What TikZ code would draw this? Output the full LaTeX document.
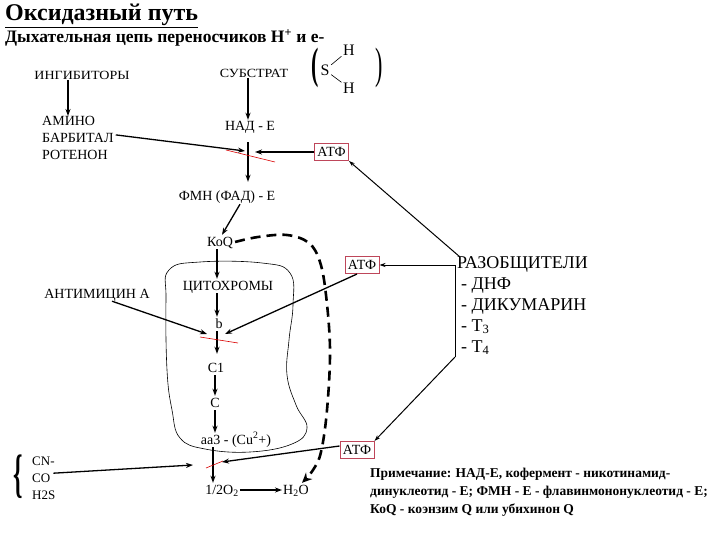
\documentclass[tikz,border=0pt]{standalone}
\usepackage{fontspec}
\setmainfont{Liberation Serif}
\newfontfamily\widefont[FakeStretch=1.12]{Liberation Serif}
\usetikzlibrary{arrows.meta}
\definecolor{atfred}{RGB}{190,70,90}
\begin{document}
\begin{tikzpicture}[x=1pt,y=-1pt,
  lbl/.style={inner sep=1pt, text height=10pt, text depth=2pt, font=\fontsize{14}{16}\selectfont},
  small/.style={inner sep=1pt, font=\widefont\fontsize{12.5}{14}\selectfont},
  poison/.style={anchor=base west, inner sep=0pt, font=\fontsize{13}{15}\selectfont},
  arr/.style={-{Stealth[length=7pt,width=5pt]}, line width=1.3pt},
  thinarr/.style={-{Stealth[length=6pt,width=4pt]}, line width=1pt},
  atf/.style={draw=atfred, fill=white, inner xsep=3pt, inner ysep=4pt, font=\fontsize{14}{16}\selectfont, line width=0.8pt},
  cross/.style={red!85!black, line width=0.6pt},
  thickdash/.style={line width=2.6pt, dash pattern=on 10pt off 6pt},
]
\useasboundingbox (0,0) rectangle (720,540);

% titles
\node[anchor=base west, inner sep=0pt, font=\fontsize{24}{26}\selectfont\bfseries] (title) at (5,21) {\underline{Оксидазный путь}};
\node[anchor=base west, inner sep=0pt, font=\fontsize{17.5}{19}\selectfont\bfseries] (sub) at (5,43) {Дыхательная цепь переносчиков H\textsuperscript{+} и е-};

% top labels
\node[small] (ing) at (82,75) {ИНГИБИТОРЫ};
\node[small] (subst) at (254,73) {СУБСТРАТ};

% (S H H)
\node[inner sep=0pt, font=\fontsize{16}{18}\selectfont] (S) at (325,70) {S};
\node[inner sep=0pt, font=\fontsize{16}{18}\selectfont] (H1) at (349,50) {H};
\node[inner sep=0pt, font=\fontsize{16}{18}\selectfont] (H2) at (349,88) {H};
\draw[line width=0.6pt, shorten <=2pt, shorten >=2pt] (S) -- (H1);
\draw[line width=0.6pt, shorten <=2pt, shorten >=2pt] (S) -- (H2);
\node[inner sep=0pt] (lp) at (315,68) {\bfseries\scalebox{1}[2]{\fontsize{22}{22}\selectfont(}};
\node[inner sep=0pt] (rp) at (379,68) {\scalebox{1}[2]{\fontsize{22}{22}\selectfont)}};

% inhibitors
\node[anchor=north west, align=left, inner sep=0pt, font=\fontsize{14}{17}\selectfont] (inh) at (42,116) {АМИНО\\БАРБИТАЛ\\РОТЕНОН};
\draw[arr] ([xshift=-14pt]ing.south) -- ([xshift=-14pt]ing.south |- inh.north);

% main chain
\node[lbl] (nad) at (250,127) {НАД - Е};
\draw[arr] ([xshift=-6pt]subst.south) -- ([xshift=-6pt]subst.south |- nad.north);
\node[lbl] (fmn) at (227,197) {ФМН (ФАД) - Е};
\coordinate (x1) at (248,152);
\draw[arr, shorten <=8pt, shorten >=8pt] ([xshift=-2pt]nad.south) -- ([xshift=-2pt]nad.south |- fmn.north);
\draw[cross] ([shift={(-22,-2)}]x1) -- ([shift={(27,10)}]x1);
\node[atf] (atf1) at (331.5,152) {АТФ};
\draw[arr] (atf1.west) -- ([xshift=7pt]x1);
\draw[arr] ([shift={(2,-3)}]inh.east) -- ([shift={(-3,-1)}]x1);

\node[lbl] (koq) at (220,242) {КоQ};
\draw[arr] ([xshift=13pt]fmn.south) -- ([xshift=2pt]koq.north);
\node[lbl] (cyt) at (228,286) {ЦИТОХРОМЫ};
\draw[arr] ([xshift=-3pt]koq.south) -- ([xshift=-3pt]koq.south |- cyt.north);
\node[lbl] (b) at (219,324) {b};
\draw[arr] ([xshift=-11pt]cyt.south) -- ([xshift=-2pt]b.north);
\node[lbl] (c1) at (216,368) {C1};
\coordinate (x2) at (217,340);
\draw[arr, shorten >=7pt] ([xshift=-2pt]b.south) -- ([xshift=-2pt]b.south |- c1.north);
\draw[cross] ([shift={(-17,-3)}]x2) -- ([shift={(21,3)}]x2);
\node[lbl] (c) at (215,403) {C};
\draw[arr] ([xshift=-1pt]c1.south) -- ([xshift=-1pt]c1.south |- c.north);
\node[lbl] (aa3) at (236,440) {аа3 - (Cu\textsuperscript{2}+)};
\draw[arr] (c.south) -- (c.south |- aa3.north);
\node[lbl] (o2) at (222,490) {1/2O\textsubscript{2}};
\node[lbl] (h2o) at (296,490) {H\textsubscript{2}O};
\coordinate (x3) at (213,465);
\draw[arr] (aa3.south -| x3) -- (x3 |- o2.north);
\draw[cross] ([shift={(-7,3)}]x3) -- ([shift={(10,-4)}]x3);
\draw[arr] (o2.east) -- (h2o.west);

% membrane outline
\draw[line width=0.6pt] plot[smooth cycle, tension=0.7] coordinates {(166,300) (169,270) (200,262) (262,263) (290,273) (293,305) (289,340) (287,375) (296,405) (307,428) (292,444) (250,452) (205,449) (180,438) (172,410) (167,370)};

% dashed path KoQ -> H2O
\draw[thickdash, -{Stealth[length=10pt,width=9pt]}] plot[smooth, tension=0.6] coordinates {([xshift=1pt]koq.east) (258,237) (287,235) (309,243) (320,262) (326,295) (330,350) (327,410) (321,452) (313,470) ([xshift=6pt]h2o.north)};

% antimycin
\node[lbl] (anti) at (97,294) {АНТИМИЦИН А};
\draw[arr] ([shift={(15,0)}]anti.south) -- ([shift={(-10,-6)}]x2);
\node[atf] (atf2) at (362,265) {АТФ};
\draw[arr] ([xshift=-5pt]atf2.south) -- ([shift={(8,-6)}]x2);

% CN, CO, H2S
\node[inner sep=0pt] (brace) at (18,477) {\bfseries\scalebox{1}[2.2]{\fontsize{24}{24}\selectfont\{}};
\node[poison] (cn) at (32,465) {CN-};
\node[poison] (co) at (32,482) {CO};
\node[poison] (h2s) at (32,499) {H2S};
\draw[arr] ([shift={(3,0)}]co.north east) -- ([xshift=-20pt]x3);
\node[atf] (atf3) at (357,450) {АТФ};
\draw[arr] ([yshift=4pt]atf3.west) -- ([shift={(9,-3)}]x3);

% uncouplers
\node[anchor=north west, align=left, inner sep=0pt, font=\fontsize{18}{21}\selectfont] (razob) at (457,256) {РАЗОБЩИТЕЛИ\\\hspace*{4pt}- ДНФ\\\hspace*{4pt}- ДИКУМАРИН\\\hspace*{4pt}- T\textsubscript{3}\\\hspace*{4pt}- T\textsubscript{4}};
\coordinate (r1) at (455,265);
\coordinate (r2) at (455,357);
\draw[thinarr] ([shift={(3,1)}]razob.north west) -- (atf1.south east);
\draw[thinarr] (r1) -- (atf2.east);
\draw[line width=1pt] (r1) -- (r2);
\draw[thinarr] (r2) -- (atf3.north east);

% note
\node[anchor=north west, align=left, inner sep=0pt, font=\fontsize{13.5}{18}\selectfont\bfseries] (note) at (370,468) {Примечание: НАД-Е, кофермент - никотинамид-\\динуклеотид - Е; ФМН - Е - флавинмононуклеотид - Е;\\КоQ - коэнзим Q или убихинон Q};
\end{tikzpicture}
\end{document}
